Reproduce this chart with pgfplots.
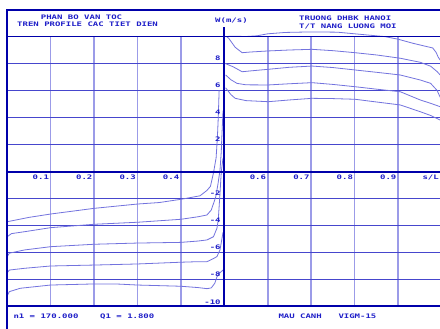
\documentclass[border=0pt]{standalone}
\usepackage{fontspec}
\setmonofont{DejaVu Sans Mono}
\usepackage{graphicx}
\usepackage{pgfplots}
\pgfplotsset{compat=1.18}
\definecolor{frame}{RGB}{0,0,170}
\definecolor{hgrid}{RGB}{70,70,205}
\definecolor{vgrid}{RGB}{155,155,232}
\definecolor{crv}{RGB}{115,115,222}
\definecolor{txt}{RGB}{30,30,200}
\newcommand{\lb}[1]{\scalebox{1.45}[1]{\fontsize{6.2}{6.2}\selectfont\ttfamily\bfseries #1}}
\begin{document}
\begin{tikzpicture}[x=1pt,y=1pt]
\path[use as bounding box, clip] (0,0) rectangle (440,329);
\fill[white] (0,0) rectangle (440,329);
\begin{axis}[at={(7.2pt,22.5pt)}, anchor=south west, scale only axis,
  width=432.8pt, height=270pt,
  xmin=0, xmax=0.9966, ymin=-10, ymax=10,
  xtick={0.1,0.2,0.3,0.4,0.6,0.7,0.8,0.9},
  ytick={-8,-6,-4,-2,2,4,6,8},
  xticklabels={,,,,,,,,}, yticklabels={,,,,,,,,},
  grid=major, major tick length=0pt,
  axis line style={draw=none},
  x grid style={color=vgrid, line width=1.5pt},
  y grid style={color=hgrid, line width=0.9pt},
  clip=false,
  cv/.style={color=crv, line width=0.8pt, mark=none},
]
% suction side (positive)
\addplot[cv] coordinates {(0.503,10.0) (0.52,10.02) (0.55,10.0) (0.575,10.05) (0.60,10.2) (0.64,10.3) (0.70,10.34) (0.76,10.32) (0.80,10.2) (0.84,10.08) (0.87,9.99) (0.90,9.8) (0.934,9.5) (0.96,9.3) (0.98,9.15) (0.988,8.8) (0.992,8.5) (0.997,8.25)};
\addplot[cv] coordinates {(0.505,10.0) (0.51,9.87) (0.525,9.2) (0.541,8.80) (0.56,8.85) (0.601,8.93) (0.65,9.0) (0.702,9.05) (0.75,8.95) (0.801,8.80) (0.851,8.63) (0.905,8.39) (0.951,8.09) (0.975,7.8) (0.99,7.4) (0.997,7.15)};
\addplot[cv] coordinates {(0.502,8.0) (0.52,7.76) (0.541,7.39) (0.56,7.45) (0.601,7.57) (0.65,7.72) (0.702,7.81) (0.75,7.7) (0.801,7.52) (0.85,7.35) (0.905,7.15) (0.951,6.78) (0.975,6.53) (0.99,6.0) (0.997,5.5)};
\addplot[cv] coordinates {(0.503,7.15) (0.515,6.8) (0.529,6.53) (0.55,6.42) (0.601,6.41) (0.65,6.5) (0.702,6.58) (0.75,6.45) (0.801,6.28) (0.85,6.1) (0.905,5.91) (0.951,5.30) (0.975,5.05) (0.997,4.8)};
\addplot[cv] coordinates {(0.503,6.2) (0.515,5.7) (0.525,5.42) (0.55,5.25) (0.601,5.17) (0.65,5.3) (0.702,5.42) (0.75,5.4) (0.801,5.35) (0.85,5.15) (0.905,4.93) (0.951,4.43) (0.975,4.15) (0.997,3.81)};
% pressure side (negative)
\addplot[cv] coordinates {(0.0,-3.72) (0.05,-3.4) (0.1,-3.15) (0.2,-2.73) (0.3,-2.41) (0.35,-2.3) (0.4,-2.06) (0.444,-1.8) (0.46,-1.4) (0.468,-1.1) (0.475,-0.1) (0.481,1.0) (0.484,2.5) (0.486,4.0) (0.488,6.0)};
\addplot[cv] coordinates {(0.0,-4.83) (0.01,-4.6) (0.04,-4.46) (0.1,-4.16) (0.2,-3.91) (0.3,-3.76) (0.4,-3.54) (0.44,-3.35) (0.46,-3.22) (0.47,-2.85) (0.48,-1.9) (0.485,-1.0) (0.49,0.1) (0.493,1.5) (0.494,2.4) (0.497,4.5)};
\addplot[cv] coordinates {(0.0,-6.3) (0.005,-6.05) (0.04,-5.81) (0.1,-5.57) (0.2,-5.39) (0.3,-5.3) (0.4,-5.25) (0.44,-5.15) (0.46,-5.07) (0.475,-4.83) (0.483,-4.2) (0.486,-3.59) (0.49,-1.61) (0.493,0.0) (0.497,1.0)};
\addplot[cv] coordinates {(0.0,-7.5) (0.005,-7.3) (0.04,-7.17) (0.1,-7.0) (0.2,-6.93) (0.3,-6.85) (0.4,-6.72) (0.44,-6.68) (0.46,-6.68) (0.475,-6.45) (0.483,-6.3) (0.49,-5.81) (0.494,-5.07) (0.497,-4.5)};
\addplot[cv] coordinates {(0.0,-9.2) (0.005,-8.9) (0.03,-8.65) (0.1,-8.41) (0.2,-8.33) (0.25,-8.33) (0.3,-8.41) (0.4,-8.5) (0.44,-8.6) (0.46,-8.68) (0.47,-8.62) (0.478,-8.28) (0.483,-7.8) (0.49,-7.5) (0.497,-7.3)};
% tick labels
\begin{scope}[every node/.style={inner sep=0pt, text=txt}]
\node[anchor=north east] at ([xshift=-1.5pt,yshift=-3.5pt]axis cs:0.1,0) {\lb{0.1}};
\node[anchor=north east] at ([xshift=-1.5pt,yshift=-3.5pt]axis cs:0.2,0) {\lb{0.2}};
\node[anchor=north east] at ([xshift=-1.5pt,yshift=-3.5pt]axis cs:0.3,0) {\lb{0.3}};
\node[anchor=north east] at ([xshift=-1.5pt,yshift=-3.5pt]axis cs:0.4,0) {\lb{0.4}};
\node[anchor=north east] at ([xshift=-1.5pt,yshift=-3.5pt]axis cs:0.6,0) {\lb{0.6}};
\node[anchor=north east] at ([xshift=-1.5pt,yshift=-3.5pt]axis cs:0.7,0) {\lb{0.7}};
\node[anchor=north east] at ([xshift=-1.5pt,yshift=-3.5pt]axis cs:0.8,0) {\lb{0.8}};
\node[anchor=north east] at ([xshift=-1.5pt,yshift=-3.5pt]axis cs:0.9,0) {\lb{0.9}};
\node[anchor=north east] at ([xshift=-1pt,yshift=-3.5pt]axis cs:0.9966,0) {\lb{s/L}};
\node[anchor=base east] at ([xshift=-3.5pt,yshift=2.5pt]axis cs:0.5,8) {\lb{8}};
\node[anchor=base east] at ([xshift=-3.5pt,yshift=2.5pt]axis cs:0.5,6) {\lb{6}};
\node[anchor=base east] at ([xshift=-3.5pt,yshift=2.5pt]axis cs:0.5,4) {\lb{4}};
\node[anchor=base east] at ([xshift=-3.5pt,yshift=2.5pt]axis cs:0.5,2) {\lb{2}};
\node[anchor=base east] at ([xshift=-3.5pt,yshift=2.5pt]axis cs:0.5,-2) {\lb{-2}};
\node[anchor=base east] at ([xshift=-3.5pt,yshift=2.5pt]axis cs:0.5,-4) {\lb{-4}};
\node[anchor=base east] at ([xshift=-3.5pt,yshift=2.5pt]axis cs:0.5,-6) {\lb{-6}};
\node[anchor=base east] at ([xshift=-3.5pt,yshift=2.5pt]axis cs:0.5,-8) {\lb{-8}};
\node[anchor=base east] at ([xshift=-3.5pt,yshift=2pt]axis cs:0.5,-10) {\lb{-10}};
\end{scope}
\end{axis}
% frame and axes
\draw[frame, line width=2pt] (7.2,0) -- (7.2,320);
\draw[frame, line width=2pt] (6.2,319) -- (440,319);
\draw[frame, line width=1.6pt] (7.2,292.5) -- (440,292.5);
\draw[frame, line width=2pt] (7.2,22.5) -- (440,22.5);
\draw[frame, line width=2pt] (7.2,157.2) -- (440,157.2);
\draw[frame, line width=2pt] (224.3,22.5) -- (224.3,302);
% texts
\begin{scope}[every node/.style={inner sep=0pt, text=txt, anchor=base west}]
\node at (40.7,309) {\lb{PHAN BO VAN TOC}};
\node at (17,302.3) {\lb{TREN PROFILE CAC TIET DIEN}};
\node at (215,306) {\lb{W(m/s)}};
\node at (299,308) {\lb{TRUONG DHBK HANOI}};
\node at (299,300) {\lb{T/T NANG LUONG MOI}};
\node at (13.3,10.7) {\lb{n1 = 170.000}};
\node at (100,10.7) {\lb{Q1 = 1.800}};
\node at (278.3,10.7) {\lb{MAU CANH}};
\node at (338.3,10.7) {\lb{VIGM-15}};
\end{scope}
\end{tikzpicture}
\end{document}
